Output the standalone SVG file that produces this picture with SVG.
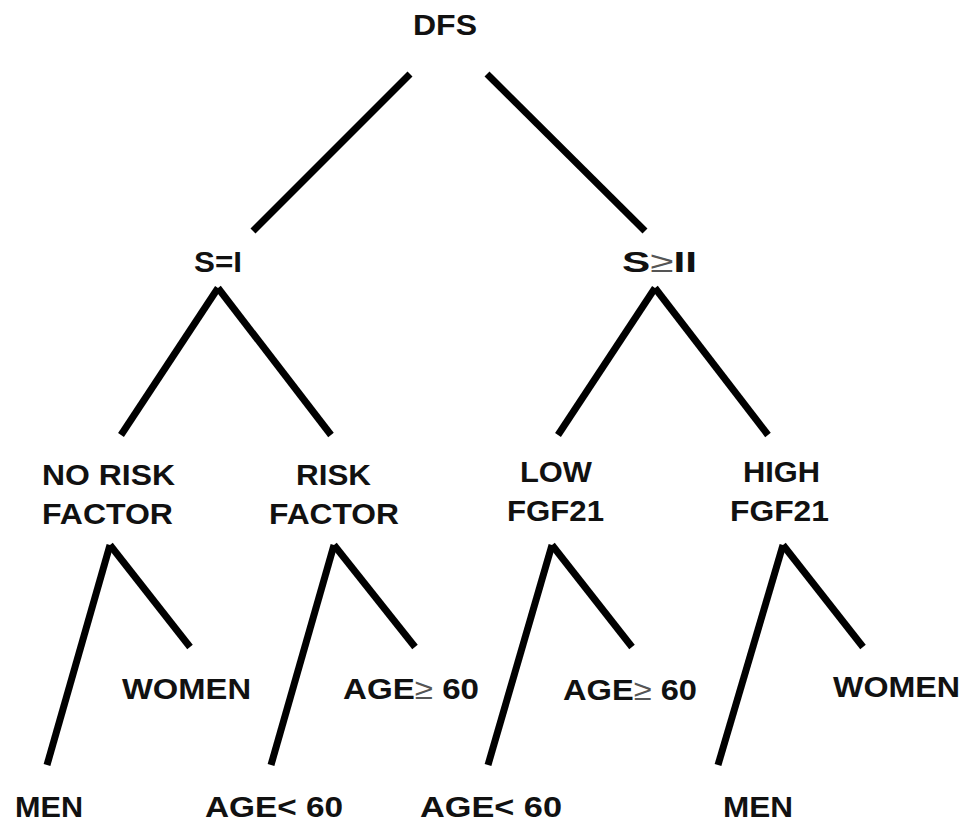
<svg xmlns="http://www.w3.org/2000/svg" width="967" height="825" viewBox="0 0 967 825">
<style>
text{font-family:"Liberation Sans",Arial,sans-serif;font-weight:bold;font-size:29px;fill:#111}
.ge{font-weight:normal;fill:#555}
.c line{stroke:#000;stroke-width:7;stroke-linecap:butt}
</style>
<rect width="967" height="825" fill="#fff"/>
<g class="c" id="connectors">
<line x1="410" y1="74" x2="253" y2="231"/>
<line x1="487" y1="74" x2="645" y2="231"/>
<line x1="218" y1="288" x2="121" y2="435"/>
<line x1="218" y1="288" x2="331" y2="435"/>
<line x1="655" y1="288" x2="558" y2="435"/>
<line x1="655" y1="288" x2="768" y2="435"/>
<line x1="110" y1="545" x2="47" y2="765"/>
<line x1="110" y1="545" x2="190" y2="647"/>
<line x1="334" y1="545" x2="271" y2="765"/>
<line x1="334" y1="545" x2="415" y2="647"/>
<line x1="552" y1="545" x2="488" y2="765"/>
<line x1="552" y1="545" x2="632" y2="647"/>
<line x1="783" y1="545" x2="718" y2="765"/>
<line x1="783" y1="545" x2="863" y2="647"/>
</g>
<g id="dfs"><text x="413" y="35" textLength="64" lengthAdjust="spacingAndGlyphs">DFS</text></g>
<g id="s1"><text x="194" y="272" textLength="48" lengthAdjust="spacingAndGlyphs">S=I</text></g>
<g id="s2"><text x="622" y="272" textLength="75" lengthAdjust="spacingAndGlyphs">S<tspan class="ge">≥</tspan>II</text></g>
<g id="norisk"><text x="42" y="485" textLength="133" lengthAdjust="spacingAndGlyphs">NO RISK</text><text x="42" y="524" textLength="131" lengthAdjust="spacingAndGlyphs">FACTOR</text></g>
<g id="risk"><text x="296" y="485" textLength="75" lengthAdjust="spacingAndGlyphs">RISK</text><text x="269" y="524" textLength="130" lengthAdjust="spacingAndGlyphs">FACTOR</text></g>
<g id="low"><text x="520" y="482" textLength="72" lengthAdjust="spacingAndGlyphs">LOW</text><text x="507" y="521" textLength="97" lengthAdjust="spacingAndGlyphs">FGF21</text></g>
<g id="high"><text x="743" y="482" textLength="77" lengthAdjust="spacingAndGlyphs">HIGH</text><text x="730" y="521" textLength="99" lengthAdjust="spacingAndGlyphs">FGF21</text></g>
<g id="men1"><text x="15" y="817" textLength="68" lengthAdjust="spacingAndGlyphs">MEN</text></g>
<g id="women1"><text x="122" y="699" textLength="129" lengthAdjust="spacingAndGlyphs">WOMEN</text></g>
<g id="ageLt1"><text x="205" y="817" textLength="138" lengthAdjust="spacingAndGlyphs">AGE&lt; 60</text></g>
<g id="ageGe1"><text x="343" y="699" textLength="136" lengthAdjust="spacingAndGlyphs">AGE<tspan class="ge">≥</tspan> 60</text></g>
<g id="ageLt2"><text x="420" y="817" textLength="142" lengthAdjust="spacingAndGlyphs">AGE&lt; 60</text></g>
<g id="ageGe2"><text x="563" y="700" textLength="134" lengthAdjust="spacingAndGlyphs">AGE<tspan class="ge">≥</tspan> 60</text></g>
<g id="men2"><text x="723" y="817" textLength="70" lengthAdjust="spacingAndGlyphs">MEN</text></g>
<g id="women2"><text x="833" y="697" textLength="127" lengthAdjust="spacingAndGlyphs">WOMEN</text></g>
</svg>
